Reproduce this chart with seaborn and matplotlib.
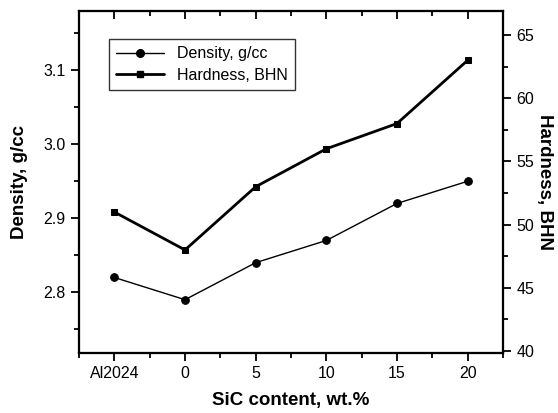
import numpy as np
import pandas as pd
import seaborn as sns
import matplotlib.pyplot as plt
from matplotlib.ticker import MultipleLocator
from matplotlib.lines import Line2D

sns.set_style("ticks")
plt.rcParams['font.family'] = ['Liberation Sans', 'DejaVu Sans']
for k in ["text.color", "axes.labelcolor", "xtick.color", "ytick.color", "axes.edgecolor"]:
    plt.rcParams[k] = "black"

# data
categories = ["Al2024", "0", "5", "10", "15", "20"]
density = [2.82, 2.79, 2.84, 2.87, 2.92, 2.95]
hardness = [51, 48, 53, 56, 58, 63]

df = pd.DataFrame({"pos": np.arange(len(categories)),
                   "SiC": categories,
                   "Density": density,
                   "Hardness": hardness})

fig = plt.figure(figsize=(5.58, 4.13), dpi=100)
ax = fig.add_axes([0.1416, 0.1453, 0.7598, 0.8281])

sns.lineplot(data=df, x="pos", y="Density", ax=ax, color="black", lw=1.0,
             marker="o", markersize=5.5, markeredgecolor="black")
ax2 = ax.twinx()
sns.lineplot(data=df, x="pos", y="Hardness", ax=ax2, color="black", lw=2.0,
             marker="s", markersize=4.5, markeredgecolor="black")

ax.set_xlim(-0.5, 5.5)
ax.set_ylim(2.718, 3.18)
ax2.set_ylim(39.85, 66.9)

ax.set_xticks(df["pos"])
ax.set_xticklabels(categories)
ax.xaxis.set_minor_locator(MultipleLocator(0.5))
ax.set_yticks([2.8, 2.9, 3.0, 3.1])
ax.yaxis.set_minor_locator(MultipleLocator(0.05))
ax2.set_yticks([40, 45, 50, 55, 60, 65])
ax2.yaxis.set_minor_locator(MultipleLocator(2.5))

# top ticks pointing inwards via a twin x axis
ax3 = ax.twiny()
ax3.set_xlim(ax.get_xlim())
ax3.set_xticks(df["pos"])
ax3.xaxis.set_minor_locator(MultipleLocator(0.5))
ax3.tick_params(axis="x", which="both", direction="in", labeltop=False, width=1.3)
ax3.tick_params(axis="x", which="major", length=6)
ax3.tick_params(axis="x", which="minor", length=3.5)

ax.tick_params(axis="x", which="both", direction="out", labelsize=11.5, width=1.3)
ax.tick_params(axis="x", which="major", length=6)
ax.tick_params(axis="x", which="minor", length=3.5)
ax.tick_params(axis="y", which="major", length=6, width=1.3, labelsize=11.5)
ax.tick_params(axis="y", which="minor", length=3.5, width=1.3)
ax2.tick_params(axis="y", which="major", length=6, width=1.3, labelsize=11.5)
ax2.tick_params(axis="y", which="minor", length=3.5, width=1.3)

for a in (ax, ax2, ax3):
    for s in a.spines.values():
        s.set_linewidth(1.5)
        s.set_visible(True)

ax.set_xlabel("SiC content, wt.%", fontsize=13.5, fontweight="bold", labelpad=8)
ax.set_ylabel("Density, g/cc", fontsize=13.5, fontweight="bold", labelpad=11)
ax2.set_ylabel("Hardness, BHN", fontsize=13.5, fontweight="bold", rotation=-90, labelpad=14)

handles = [Line2D([], [], color="black", lw=1.0, marker="o", markersize=5.5),
           Line2D([], [], color="black", lw=2.0, marker="s", markersize=4.5)]
leg = ax.legend(handles, ["Density, g/cc", "Hardness, BHN"], loc="upper left",
                bbox_to_anchor=(0.07, 0.918), borderaxespad=0, fontsize=11.5,
                frameon=True, fancybox=False, edgecolor="black", handlelength=3.0,
                borderpad=0.45, labelspacing=0.4, handletextpad=0.8)
leg.get_frame().set_linewidth(1.0)

fig.savefig("out.png", dpi=100)
